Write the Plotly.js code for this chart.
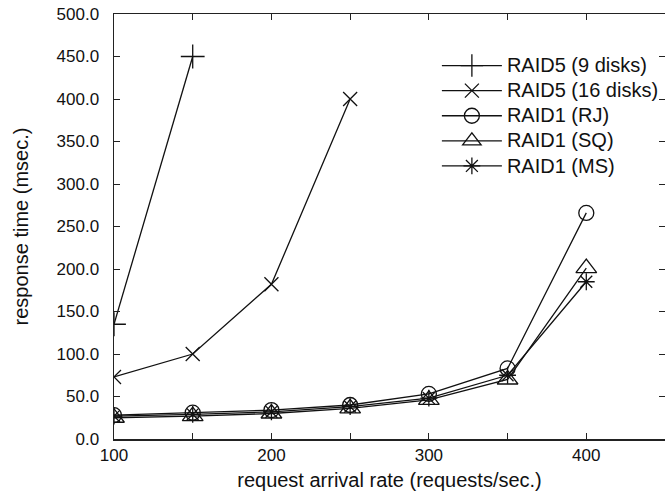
<!DOCTYPE html>
<html>
<head>
<meta charset="utf-8">
<script src="https://cdn.plot.ly/plotly-3.0.1.min.js"></script>
<style>html,body{margin:0;padding:0;background:#fff;}#chart{width:665px;height:498px;}</style>
</head>
<body>
<div id="chart"></div>
<script>
const rates = [100, 150, 200, 250, 300, 350, 400];
const raid5_9 = [135, 450];
const raid5_16 = [73, 100, 182, 400];
const raid1_rj = [28, 31, 34, 40, 53, 83, 266];
const raid1_sq = [25, 27, 30, 36, 46, 70, 201];
const raid1_ms = [27, 29, 32, 38, 48, 75, 185];
const seriesNames = ['RAID5 (9 disks)', 'RAID5 (16 disks)', 'RAID1 (RJ)', 'RAID1 (SQ)', 'RAID1 (MS)'];
const seriesData = [raid5_9, raid5_16, raid1_rj, raid1_sq, raid1_ms];
const symbols = ['cross-thin-open', 'x-thin-open', 'circle-open', 'triangle-up-open', 'asterisk-open'];
const sizes = [17, 14, 15, 18, 14];

const traces = seriesData.map((vals, i) => ({
  x: rates.slice(0, vals.length),
  y: vals,
  name: '<span style="font-size:20px">' + seriesNames[i] + '</span>',
  type: 'scatter',
  mode: 'lines+markers',
  line: {color: '#111', width: 1.3},
  marker: {symbol: symbols[i], size: sizes[i], color: '#111', line: {color: '#111', width: 1.3}},
  cliponaxis: true
}));

const fam = 'Liberation Sans, Arial, Helvetica, sans-serif';
const tickFont = {family: fam, size: 17, color: '#111'};
const bigFont = {family: fam, size: 20, color: '#111'};

const layout = {
  width: 665, height: 498,
  margin: {l: 114, r: 0, t: 14, b: 59},
  paper_bgcolor: '#fff', plot_bgcolor: '#fff',
  font: tickFont,
  showlegend: true,
  legend: {
    x: 0.586, y: 0.92, xanchor: 'left', yanchor: 'top',
    bgcolor: 'rgba(0,0,0,0)', borderwidth: 0,
    font: {family: fam, size: 17, color: '#111'}, traceorder: 'normal',
    itemwidth: 60
  },
  xaxis: {
    range: [100, 450], dtick: 100, tick0: 100,
    ticks: 'inside', ticklen: 6, tickcolor: '#222', tickwidth: 1,
    minor: {dtick: 50, ticks: 'inside', ticklen: 6, tickcolor: '#222'},
    showline: true, linecolor: '#222', linewidth: 1.5, mirror: 'ticks',
    showgrid: false, zeroline: false,
    tickfont: tickFont,
    title: {text: 'request arrival rate (requests/sec.)', font: bigFont, standoff: 9}
  },
  yaxis: {
    range: [0, 500], dtick: 50, tick0: 0,
    tickformat: '.1f',
    ticks: 'inside', ticklen: 6, tickcolor: '#222', tickwidth: 1,
    ticklabelstandoff: 10,
    showline: true, linecolor: '#222', linewidth: 1.5, mirror: 'ticks',
    showgrid: false, zeroline: false,
    tickfont: tickFont,
    title: {text: 'response time (msec.)', font: bigFont, standoff: 22}
  }
};

Plotly.newPlot('chart', traces, layout, {displayModeBar: false, staticPlot: true});
</script>
</body>
</html>
